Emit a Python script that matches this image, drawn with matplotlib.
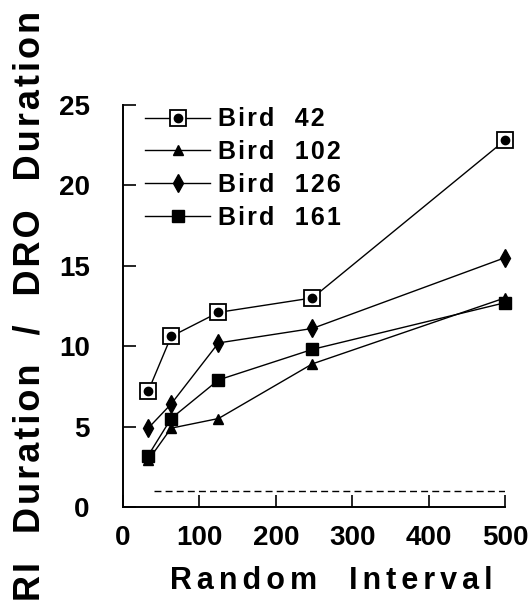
import matplotlib
matplotlib.use("Agg")
import matplotlib.pyplot as plt
from matplotlib.legend_handler import HandlerTuple

plt.rcParams['font.family'] = ['Liberation Sans', 'DejaVu Sans']
plt.rcParams['font.weight'] = 'bold'

# Random interval values (s)
ri = [33, 63, 125, 248, 500]

# RI duration / DRO duration per bird
bird42 = [7.2, 10.6, 12.1, 13.0, 22.8]
bird102 = [2.9, 4.9, 5.5, 8.9, 13.0]
bird126 = [4.9, 6.4, 10.2, 11.1, 15.5]
bird161 = [3.2, 5.5, 7.9, 9.8, 12.7]

bird_names = ['Bird  42', 'Bird  102', 'Bird  126', 'Bird  161']

dro_x = [40, 500]
dro_y = [1, 1]


def spaced(s, gap='\u200a'):
    # old typewriter-style tracking between letters
    return gap.join(s)


fig = plt.figure(figsize=(5.31, 6.12), dpi=100)
ax = fig.add_axes([0.2316, 0.1716, 0.7194, 0.657])

lw = 1.0
sq42, = ax.plot(ri, bird42, color='black', lw=lw, marker='s', ms=11,
                mfc='white', mec='black', mew=1.3, clip_on=False)
dot42, = ax.plot(ri, bird42, color='black', lw=0, marker='o', ms=6,
                 clip_on=False)
l102, = ax.plot(ri, bird102, color='black', lw=lw, marker='^', ms=7,
                clip_on=False)
l126, = ax.plot(ri, bird126, color='black', lw=lw, marker='d', ms=9,
                clip_on=False)
l161, = ax.plot(ri, bird161, color='black', lw=lw, marker='s', ms=8,
                clip_on=False)
ax.plot(dro_x, dro_y, color='black', lw=1.0, ls=(0, (5, 3)))

leg = ax.legend([(sq42, dot42), l102, l126, l161],
                [spaced(n) for n in bird_names],
                handler_map={tuple: HandlerTuple(ndivide=1)},
                loc='upper left', bbox_to_anchor=(0.0, 1.05), frameon=False,
                handlelength=2.6, handletextpad=0.3, labelspacing=0.35,
                prop={'size': 18, 'weight': 'bold'})

ax.set_xlim(0, 500)
ax.set_ylim(0, 25)
ax.set_xticks([0, 100, 200, 300, 400, 500])
ax.set_yticks([0, 5, 10, 15, 20, 25])
ax.spines['top'].set_visible(False)
ax.spines['right'].set_visible(False)
ax.spines['left'].set_linewidth(1.4)
ax.spines['bottom'].set_linewidth(1.4)
ax.tick_params(axis='both', direction='in', length=9, width=1.2,
               labelsize=20)
ax.tick_params(axis='y', pad=24)
ax.tick_params(axis='x', pad=13)

ax.set_xlabel(spaced('Random  Interval', '\u200a\u200a'), fontsize=22,
              fontweight='bold')
ax.xaxis.set_label_coords(0.545, -0.148)
ax.set_ylabel(spaced('RI  Duration  /  DRO  Duration'), fontsize=26,
              fontweight='bold', labelpad=8)

fig.savefig('out.png', dpi=100)
